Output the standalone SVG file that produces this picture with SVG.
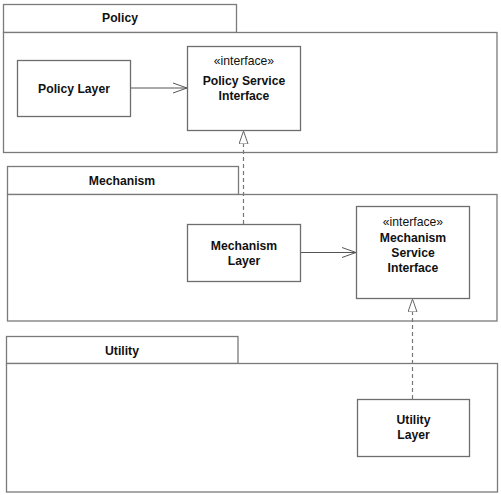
<svg xmlns="http://www.w3.org/2000/svg" width="501" height="495" viewBox="0 0 501 495">
<defs>
<style>
.pkg{fill:#fff;stroke:#7a7a7a;stroke-width:1.3}
.box{fill:#fff;stroke:#6e6e6e;stroke-width:1.3}
.t{font-family:"Liberation Sans",Arial,sans-serif;font-weight:bold;font-size:12.2px;fill:#111;text-anchor:middle}
.s{font-family:"Liberation Sans",Arial,sans-serif;font-size:12.2px;fill:#111;text-anchor:middle}
.dep{stroke:#555;stroke-width:1;fill:none}
.real{stroke:#777;stroke-width:1.2;fill:none;stroke-dasharray:4 3}
</style>
<marker id="open" markerWidth="16" markerHeight="12" refX="14" refY="6" orient="auto" markerUnits="userSpaceOnUse">
<path d="M0,1 L14,6 L0,11" fill="none" stroke="#555" stroke-width="1"/>
</marker>
<marker id="tri" markerWidth="12" markerHeight="16" refX="13" refY="5" orient="auto" markerUnits="userSpaceOnUse">
<path d="M0,0.5 L13,5 L0,9.5 Z" fill="#fff" stroke="#666" stroke-width="1"/>
</marker>
</defs>
<rect width="501" height="495" fill="#fff"/>

<g id="pkg-policy">
<rect class="pkg" x="3.5" y="4.5" width="233" height="28"/>
<rect class="pkg" x="3.5" y="32.5" width="493.5" height="120"/>
<text class="t" x="120" y="22">Policy</text>
</g>
<g id="pkg-mechanism">
<rect class="pkg" x="7.5" y="166.5" width="231" height="28"/>
<rect class="pkg" x="7.5" y="194.5" width="489.5" height="126.5"/>
<text class="t" x="122" y="185">Mechanism</text>
</g>
<g id="pkg-utility">
<rect class="pkg" x="6.5" y="336.5" width="231.5" height="27"/>
<rect class="pkg" x="6.5" y="363.5" width="491" height="128.5"/>
<text class="t" x="122" y="354.5">Utility</text>
</g>

<g id="policy-layer">
<rect class="box" x="17.5" y="60.5" width="113" height="56"/>
<text class="t" x="74" y="92.5">Policy Layer</text>
</g>
<g id="policy-service-interface">
<rect class="box" x="187.5" y="46.5" width="113" height="84"/>
<text class="s" x="244" y="64.5">«interface»</text>
<text class="t" x="244" y="85">Policy Service</text>
<text class="t" x="244" y="100">Interface</text>
</g>
<g id="mechanism-layer">
<rect class="box" x="187.5" y="224.5" width="113" height="57"/>
<text class="t" x="244" y="249.5">Mechanism</text>
<text class="t" x="244" y="264.5">Layer</text>
</g>
<g id="mechanism-service-interface">
<rect class="box" x="356.5" y="206.5" width="113" height="92"/>
<text class="s" x="413" y="225.5">«interface»</text>
<text class="t" x="413" y="241.5">Mechanism</text>
<text class="t" x="413" y="256.5">Service</text>
<text class="t" x="413" y="271.5">Interface</text>
</g>
<g id="utility-layer">
<rect class="box" x="357.5" y="399.5" width="112" height="57"/>
<text class="t" x="413.5" y="423.5">Utility</text>
<text class="t" x="413.5" y="439">Layer</text>
</g>

<g id="connectors">
<line class="dep" x1="131" y1="88" x2="187" y2="88" marker-end="url(#open)"/>
<line class="dep" x1="301" y1="252.5" x2="356" y2="252.5" marker-end="url(#open)"/>
<line class="real" x1="243.5" y1="224" x2="243.5" y2="131" marker-end="url(#tri)"/>
<line class="real" x1="412.5" y1="399" x2="412.5" y2="299" marker-end="url(#tri)"/>
</g>
</svg>
